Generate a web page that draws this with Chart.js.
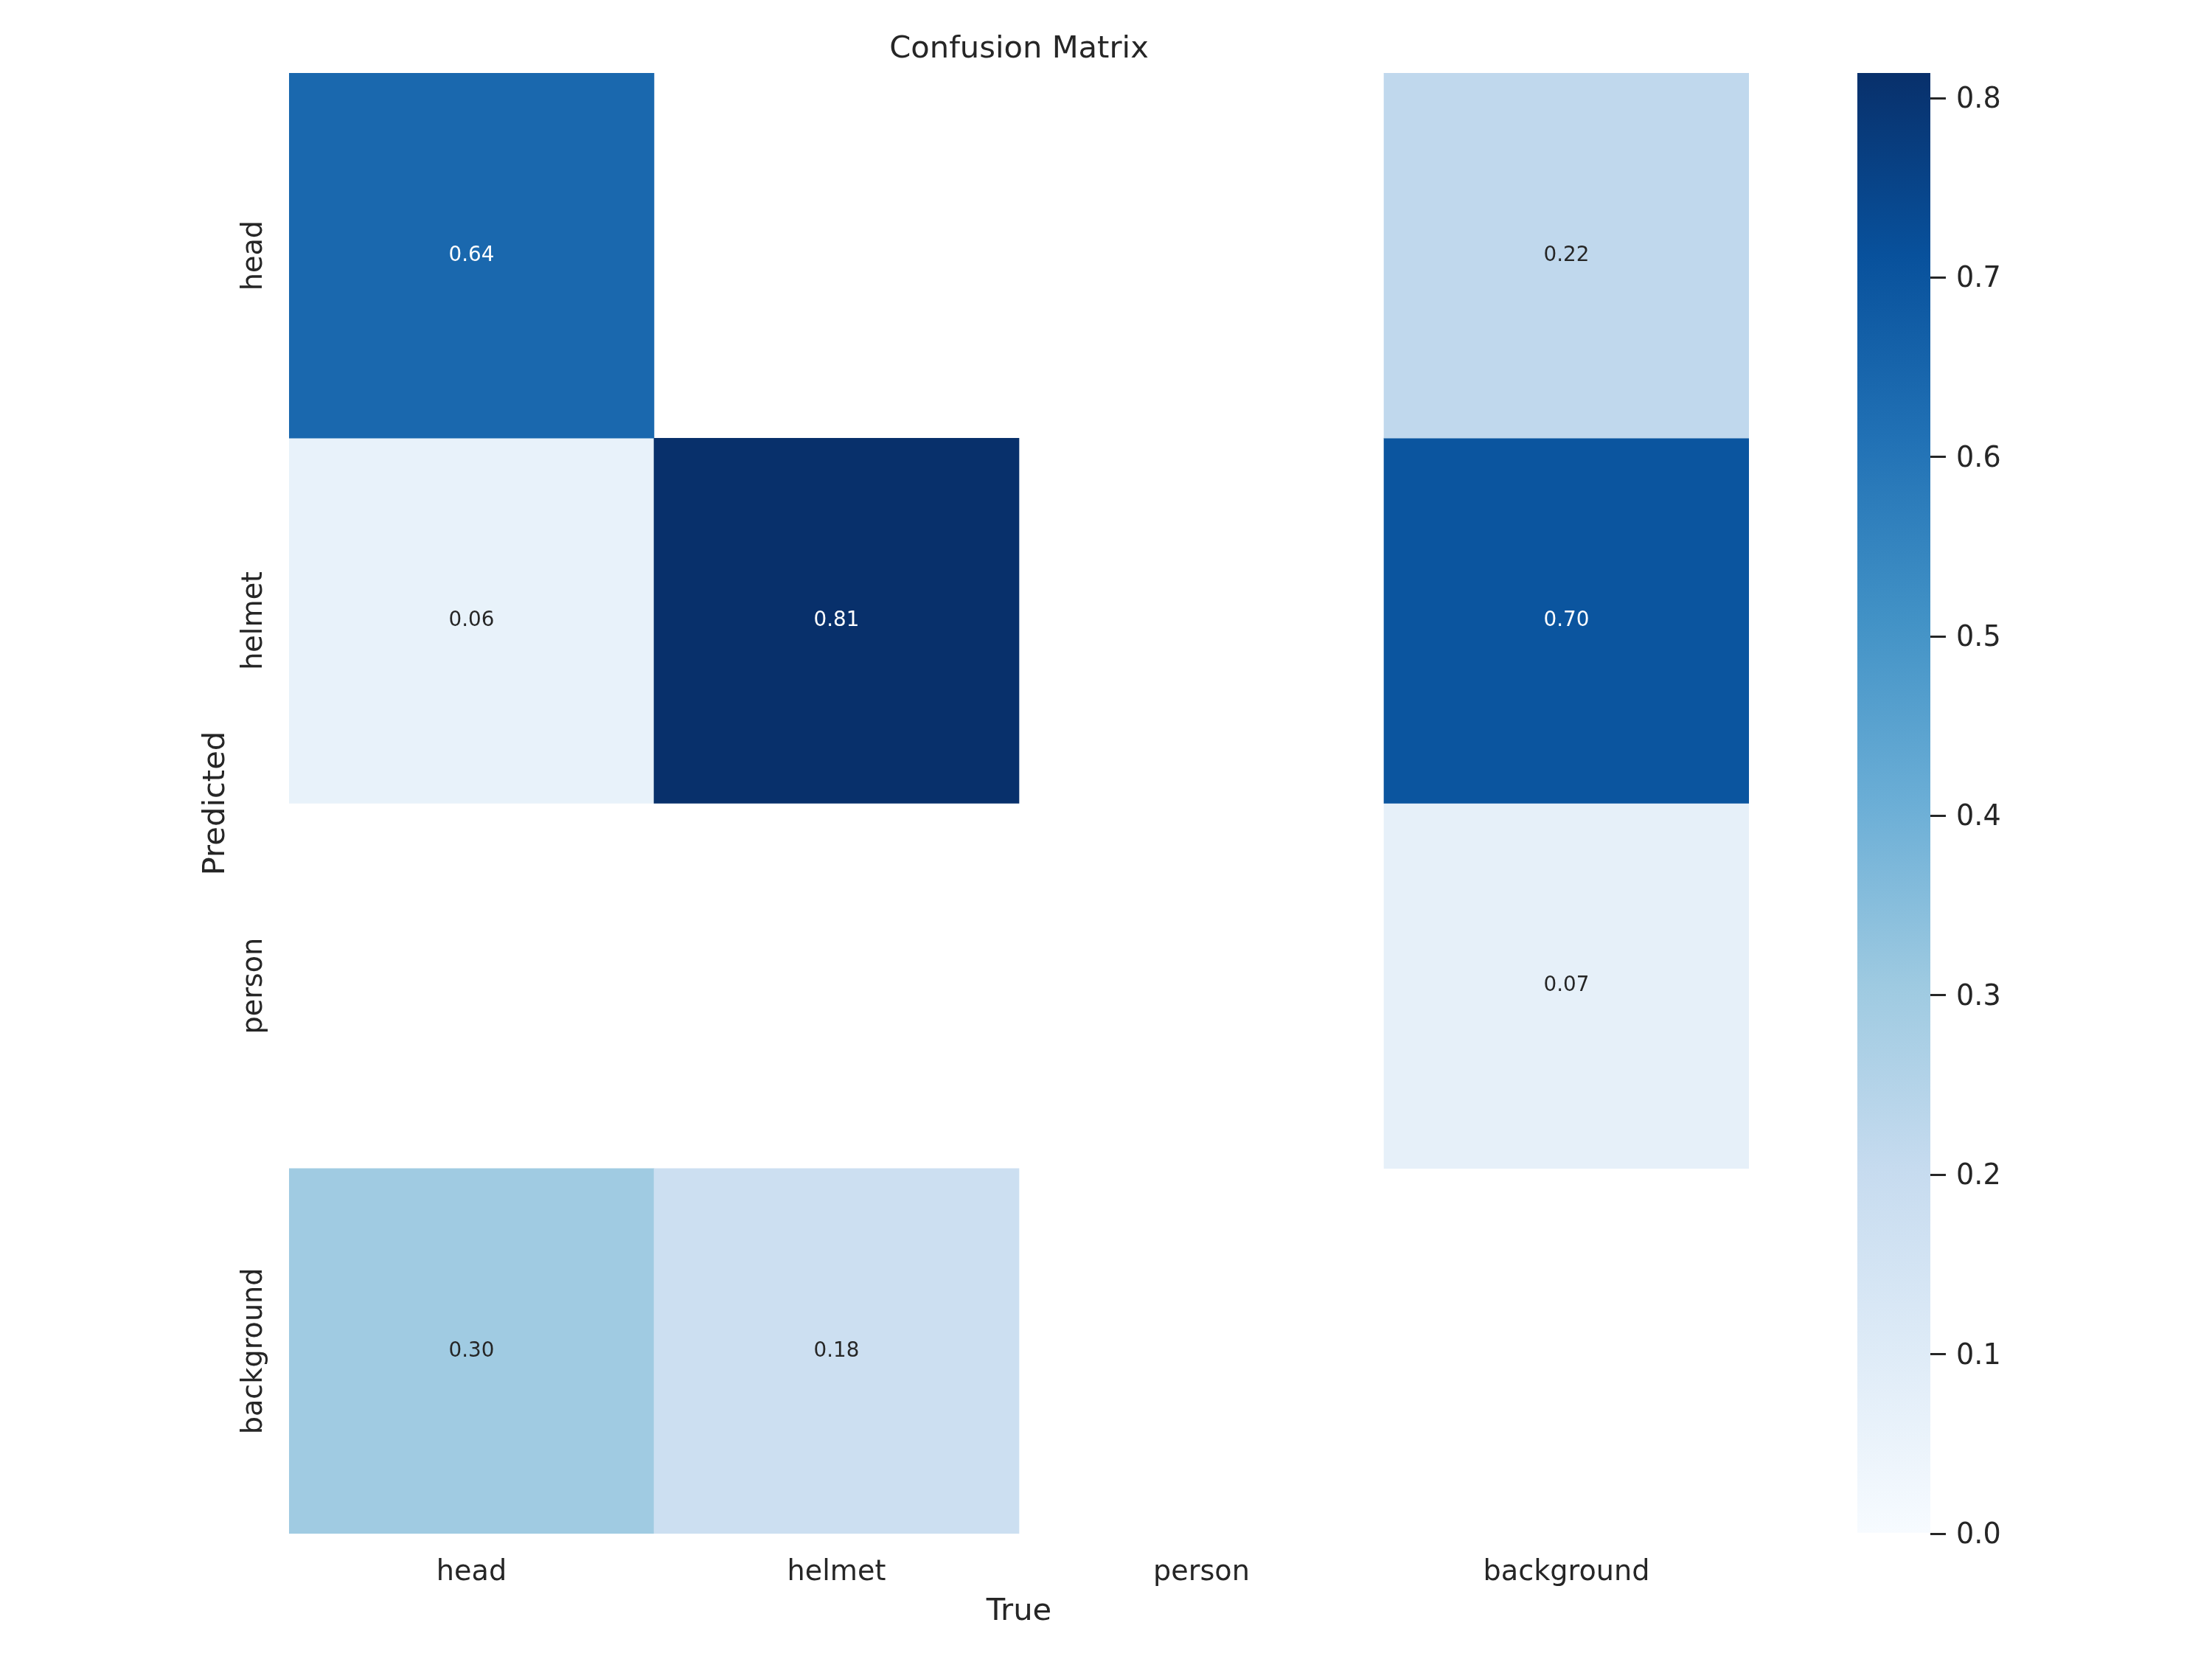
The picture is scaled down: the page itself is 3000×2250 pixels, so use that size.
<!DOCTYPE html>
<html>
<head>
<meta charset="utf-8">
<script src="https://cdn.jsdelivr.net/npm/chart.js@4.4.1/dist/chart.umd.min.js"></script>
<style>
  html, body { margin: 0; padding: 0; background: #ffffff; }
  #wrap { position: relative; width: 3000px; height: 2250px; }
  canvas { position: absolute; left: 0; top: 0; }
</style>
</head>
<body>
<div id="wrap">
  <canvas id="cm" width="3000" height="2250"></canvas>
  <canvas id="cb" width="3000" height="2250"></canvas>
</div>
<script>
// ---- data ----
const trueLabels = ['head', 'helmet', 'person', 'background'];
const predLabels = ['head', 'helmet', 'person', 'background'];
const rowHead = [0.64, null, null, 0.22];
const rowHelmet = [0.06, 0.814, null, 0.70];
const rowPerson = [null, null, null, 0.07];
const rowBackground = [0.30, 0.18, null, null];
const colorbarTicks = [0.0, 0.1, 0.2, 0.3, 0.4, 0.5, 0.6, 0.7, 0.8];

const matrixRows = [rowHead, rowHelmet, rowPerson, rowBackground];
const vmin = 0.0;
const vmax = Math.max(...matrixRows.flat().filter(v => v != null));

// matplotlib "Blues" colormap
const bluesStops = ['#f7fbff', '#deebf7', '#c6dbef', '#9ecae1', '#6baed6', '#4292c6', '#2171b5', '#08519c', '#08306b'];
function hexToRgb(h) { return [parseInt(h.slice(1, 3), 16), parseInt(h.slice(3, 5), 16), parseInt(h.slice(5, 7), 16)]; }
function blues(t) {
  t = Math.max(0, Math.min(1, t));
  const p = t * (bluesStops.length - 1);
  const i = Math.min(Math.floor(p), bluesStops.length - 2);
  const f = p - i;
  const a = hexToRgb(bluesStops[i]), b = hexToRgb(bluesStops[i + 1]);
  const c = a.map((v, k) => Math.round(v + (b[k] - v) * f));
  return 'rgb(' + c.join(',') + ')';
}
function luminance(rgbStr) {
  const c = rgbStr.match(/\d+/g).map(Number).map(v => {
    v /= 255; return v <= 0.03928 ? v / 12.92 : Math.pow((v + 0.055) / 1.055, 2.4);
  });
  return 0.2126 * c[0] + 0.7152 * c[1] + 0.0722 * c[2];
}
function cellColor(v) { return blues((v - vmin) / (vmax - vmin)); }

const FONT = '"DejaVu Sans", "Liberation Sans", sans-serif';
const TEXT = '#262626';
const TICK_PX = 38.19;
const LABEL_PX = 41.67;
const ANNOT_PX = 27.78;
Chart.defaults.font.family = FONT;
Chart.defaults.color = TEXT;

// width of the widest y tick label (for centring the rotated labels)
const mctx = document.createElement('canvas').getContext('2d');
mctx.font = TICK_PX + 'px ' + FONT;
const widestY = Math.max(...predLabels.map(s => mctx.measureText(s).width));
const yLabelCenterFromAxis = 38.5;

const datasets = matrixRows.map((row, i) => ({
  label: predLabels[i],
  data: row.map(v => (v == null ? null : [i, i + 1])),
  values: row,
  backgroundColor: row.map(v => (v == null ? 'rgba(0,0,0,0)' : cellColor(v))),
  borderWidth: 0,
  grouped: false,
  barPercentage: 1.0,
  categoryPercentage: 1.0
}));

const annotPlugin = {
  id: 'annot',
  afterDatasetsDraw(chart) {
    const ctx = chart.ctx;
    ctx.save();
    ctx.font = ANNOT_PX + 'px ' + FONT;
    ctx.textAlign = 'center';
    ctx.textBaseline = 'middle';
    chart.data.datasets.forEach((ds, i) => {
      const meta = chart.getDatasetMeta(i);
      ds.values.forEach((v, j) => {
        if (v == null) return;
        const el = meta.data[j];
        const cx = el.x;
        const cy = (el.y + el.base) / 2;
        ctx.fillStyle = luminance(cellColor(v)) > 0.408 ? TEXT : '#ffffff';
        ctx.fillText(v.toFixed(2), cx, cy);
      });
    });
    ctx.restore();
  }
};

new Chart(document.getElementById('cm'), {
  type: 'bar',
  data: { labels: trueLabels, datasets },
  plugins: [annotPlugin],
  options: {
    responsive: false,
    devicePixelRatio: 1,
    animation: false,
    layout: { padding: { left: 0, right: 628, top: 0, bottom: 39 } },
    plugins: {
      legend: { display: false },
      tooltip: { enabled: false },
      title: {
        display: true,
        fullSize: false,
        text: 'Confusion Matrix',
        color: TEXT,
        font: { size: LABEL_PX, weight: 'normal', family: FONT },
        padding: { top: 42, bottom: 7 },
        lineHeight: 1.2
      }
    },
    scales: {
      x: {
        type: 'category',
        grid: { display: false },
        border: { display: false },
        ticks: { font: { size: TICK_PX }, color: TEXT, padding: 22, maxRotation: 0, minRotation: 0 },
        title: { display: true, text: 'True', color: TEXT, font: { size: LABEL_PX }, padding: { top: 0, bottom: 0 } },
        afterFit(scale) { scale.height = 131; }
      },
      y: {
        type: 'linear',
        min: 0,
        max: 4,
        reverse: true,
        grid: { display: false },
        border: { display: false },
        afterBuildTicks(scale) { scale.ticks = predLabels.map((_, i) => ({ value: i + 0.5 })); },
        ticks: {
          font: { size: TICK_PX },
          color: TEXT,
          minRotation: 90,
          maxRotation: 90,
          crossAlign: 'center',
          padding: yLabelCenterFromAxis - widestY / 2,
          callback: (value) => predLabels[Math.floor(value)]
        },
        title: { display: true, text: 'Predicted', color: TEXT, font: { size: LABEL_PX }, padding: { top: 268, bottom: 0 } },
        afterFit(scale) { scale.width = 392; }
      }
    }
  }
});

// ---- colorbar ----
new Chart(document.getElementById('cb'), {
  type: 'bar',
  data: {
    labels: [''],
    datasets: [{
      data: [[vmin, vmax]],
      borderWidth: 0,
      barPercentage: 1.0,
      categoryPercentage: 1.0,
      backgroundColor(ctx) {
        const area = ctx.chart.chartArea;
        if (!area) return bluesStops[4];
        const g = ctx.chart.ctx.createLinearGradient(0, area.bottom, 0, area.top);
        bluesStops.forEach((c, i) => g.addColorStop(i / (bluesStops.length - 1), c));
        return g;
      }
    }]
  },
  options: {
    responsive: false,
    devicePixelRatio: 1,
    animation: false,
    layout: { padding: { left: 2519, right: 182, top: 99, bottom: 170 } },
    plugins: { legend: { display: false }, tooltip: { enabled: false }, title: { display: false } },
    scales: {
      x: { display: false },
      y: {
        position: 'right',
        min: vmin,
        max: vmax,
        afterBuildTicks(scale) { scale.ticks = colorbarTicks.map(v => ({ value: v })); },
        grid: { display: true, drawOnChartArea: false, drawTicks: true, tickLength: 21, lineWidth: 3, color: TEXT },
        border: { display: false },
        ticks: { font: { size: TICK_PX }, color: TEXT, padding: 14, labelOffset: 3, callback: v => v.toFixed(1) },
        afterFit(scale) { scale.width = 200; }
      }
    }
  }
});
</script>
</body>
</html>
